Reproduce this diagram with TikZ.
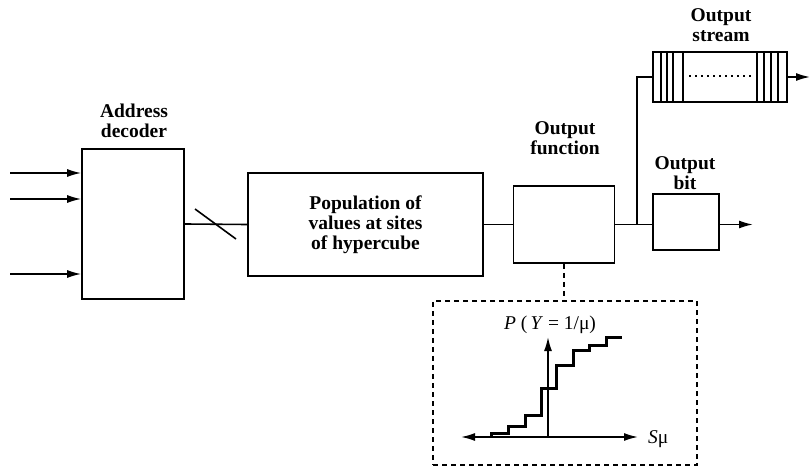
\documentclass[tikz,border=0pt]{standalone}
\usepackage{fontspec}
\setmainfont{Liberation Serif}
\usetikzlibrary{arrows.meta}
\begin{document}
\begin{tikzpicture}[x=1pt,y=-1pt,
  every node/.style={font=\fontsize{19.5}{20}\selectfont\bfseries},
  blk/.style={draw, line width=1.6pt, inner sep=0pt, minimum width=#1},
  lbl/.style={inner sep=0pt, align=center, anchor=south},
  wire/.style={line width=1.6pt},
  tip/.style={-{Latex[length=14pt,width=8pt]}},
  arr/.style={line width=1.6pt, tip}]
\useasboundingbox (0,0) rectangle (811,470);
% blocks
\node[blk=102pt, minimum height=150pt] (addr) at (133,224) {};
\node[blk=235pt, minimum height=103pt, align=center] (pop) at (365.5,224.5)
  {Population of\\values at sites\\of hypercube};
\node[blk=101pt, minimum height=77pt] (func) at (564,224.5) {};
\node[blk=66pt, minimum height=56pt] (bit) at (686,222) {};
\node[blk=134pt, minimum height=50pt] (stream) at (720,77) {};
\node[draw, line width=1.6pt, dash pattern=on 5pt off 4pt, inner sep=0pt,
  minimum width=264pt, minimum height=164pt] (dbox) at (565,383) {};
% labels
\node[lbl] (laddr) at (134,138) {Address\\decoder};
\node[lbl] (lfunc) at (565,155) {Output\\function};
\node[lbl] (lbit) at (685,190) {Output\\bit};
\node[lbl] (lstream) at (721,41.5) {Output\\stream};
% inputs
\coordinate (i1) at (10,173);
\coordinate (i2) at (10,199);
\coordinate (i3) at (10,274);
\foreach \i in {i1,i2,i3} \draw[arr] (\i) -- (\i -| addr.west);
% main chain
\draw[wire] (addr.east) -- (pop.west);
\draw[line width=1.6pt] (195,209) -- (236,239);
\draw[wire] (pop.east) -- (func.west);
\draw[wire] (func.east) -- (func.east -| bit.west);
\coordinate (br) at (637,224.5);
\draw[wire] (br) |- (stream.west);
\coordinate (obit) at (753,224.5);
\draw[arr] (bit.east |- obit) -- (obit);
\coordinate (ostream) at (810,77);
\draw[arr] (stream.east) -- (ostream);
% stream stripes
\foreach \x in {661,667,673,683,757,764,771,778}
  \draw[line width=1.4pt] (\x,52) -- (\x,102);
\draw[line width=1.6pt, dash pattern=on 1.6pt off 4.4pt] (689,76) -- (751,76);
% dashed link
\draw[line width=1.6pt, dash pattern=on 5pt off 4pt] (func.south) -- (func.south |- dbox.north);
% graph
\coordinate (o) at (548,437);
\coordinate (ytop) at (548,337);
\coordinate (xl) at (461,437);
\coordinate (xr) at (638,437);
\draw[line width=1.6pt, tip] (o) -- (ytop);
\draw[line width=1.6pt, {Latex[length=14pt,width=8pt]}-{Latex[length=14pt,width=8pt]}] (xl) -- (xr);
\draw[line width=3pt] (491.7,437) -- (491.7,433.3) -- (508.3,433.3) -- (508.3,426) -- (525,426)
  -- (525,415) -- (541,415) -- (541,388.3) -- (556,388.3) -- (556,365) -- (573.3,365)
  -- (573.3,350.7) -- (589.3,350.7) -- (589.3,345.7) -- (606,345.7) -- (606,337.3) -- (621.7,337.3);
\node[inner sep=0pt, anchor=base] (py) at (550,330) {\mdseries\textit{P} (\,\textit{Y} = 1/μ)};
\node[inner sep=0pt, anchor=base west] (smu) at (648,443) {\mdseries\textit{S}μ};
\end{tikzpicture}
\end{document}
